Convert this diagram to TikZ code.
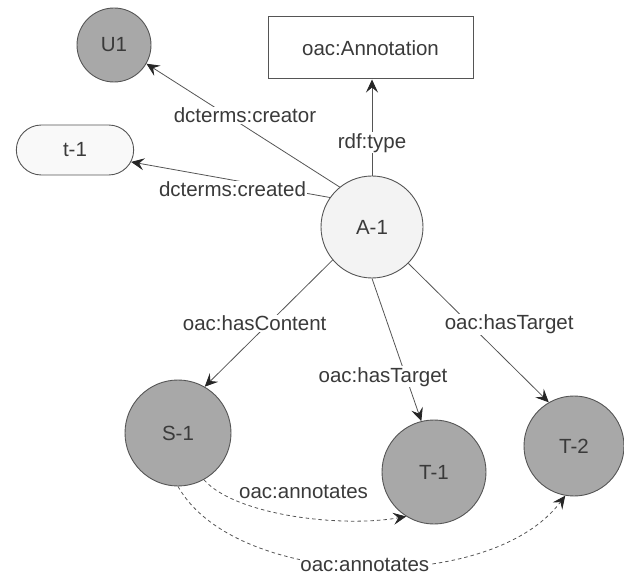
\documentclass[tikz,border=0pt]{standalone}
\usepackage{fontspec}
\setmainfont{Liberation Sans}
\usetikzlibrary{arrows.meta,shapes.misc}
\definecolor{edgec}{HTML}{555555}
\definecolor{txtc}{HTML}{3A3A3A}
\definecolor{darkn}{HTML}{A8A8A8}
\definecolor{lightn}{HTML}{F3F3F3}
\begin{document}
\begin{tikzpicture}[x=1pt,y=-1pt,
  every node/.style={font=\fontsize{20.5}{24}\selectfont, text=txtc},
  darkc/.style={circle, draw=edgec, line width=0.9pt, fill=darkn, inner sep=0pt, minimum size=#1},
  lightc/.style={circle, draw=edgec, line width=0.9pt, fill=lightn, inner sep=0pt, minimum size=#1},
  classbox/.style={rectangle, draw=edgec, line width=1pt, fill=white, minimum width=205pt, minimum height=62pt},
  litbox/.style={rounded rectangle, draw=edgec, line width=0.9pt, fill=lightn!50!white, minimum width=124pt, minimum height=50pt},
  rel/.style={draw=edgec, line width=0.8pt, -{Stealth[length=13pt,width=12pt,inset=5pt,color=black!85]}},
  reldash/.style={rel, dashed, dash pattern=on 3.5pt off 3pt},
  lbl/.style={fill=white, inner sep=1pt}]
\useasboundingbox (0,0) rectangle (624,577);

\node[darkc=74pt] (U1) at (114,45) {U1};
\node[classbox] (ann) at (370.5,48) {oac:Annotation};
\node[litbox] (t1) at (75,150) {t-1};
\node[lightc=102pt] (A1) at (372,227) {A-1};
\node[darkc=106pt] (S1) at (178,433) {S-1};
\node[darkc=104pt] (T1) at (434,472) {T-1};
\node[darkc=100pt] (T2) at (574,446) {T-2};

\draw[rel] (A1.129) -- node[lbl, pos=0.49, yshift=11pt] {dcterms:creator} (U1.-30);
\draw[rel] (A1.145) -- node[lbl, pos=0.49, yshift=-9pt] {dcterms:created} (t1.-12);
\draw[rel] (A1.north) -- node[lbl, pos=0.34] {rdf:type} (A1.north |- ann.south);
\draw[rel] (A1.220) -- node[lbl, pos=0.5, xshift=-14pt] {oac:hasContent} (S1.60);
\draw[rel] (A1.south) -- node[lbl, pos=0.69, xshift=-23pt] {oac:hasTarget} (T1.104);
\draw[rel] (A1.-45) -- node[lbl, pos=0.44, xshift=39pt] {oac:hasTarget} (T2.120);

\draw[reldash] (S1.-61) .. controls (235,515) and (340,528) .. (T1.-122)
  node[lbl, pos=0.55, yshift=25pt] {oac:annotates};
\draw[reldash] (S1.-90) .. controls (235,588) and (490,596) .. (T2.-100)
  node[lbl, pos=0.5, yshift=2pt, inner sep=0.5pt] {oac:annotates};
\end{tikzpicture}
\end{document}
